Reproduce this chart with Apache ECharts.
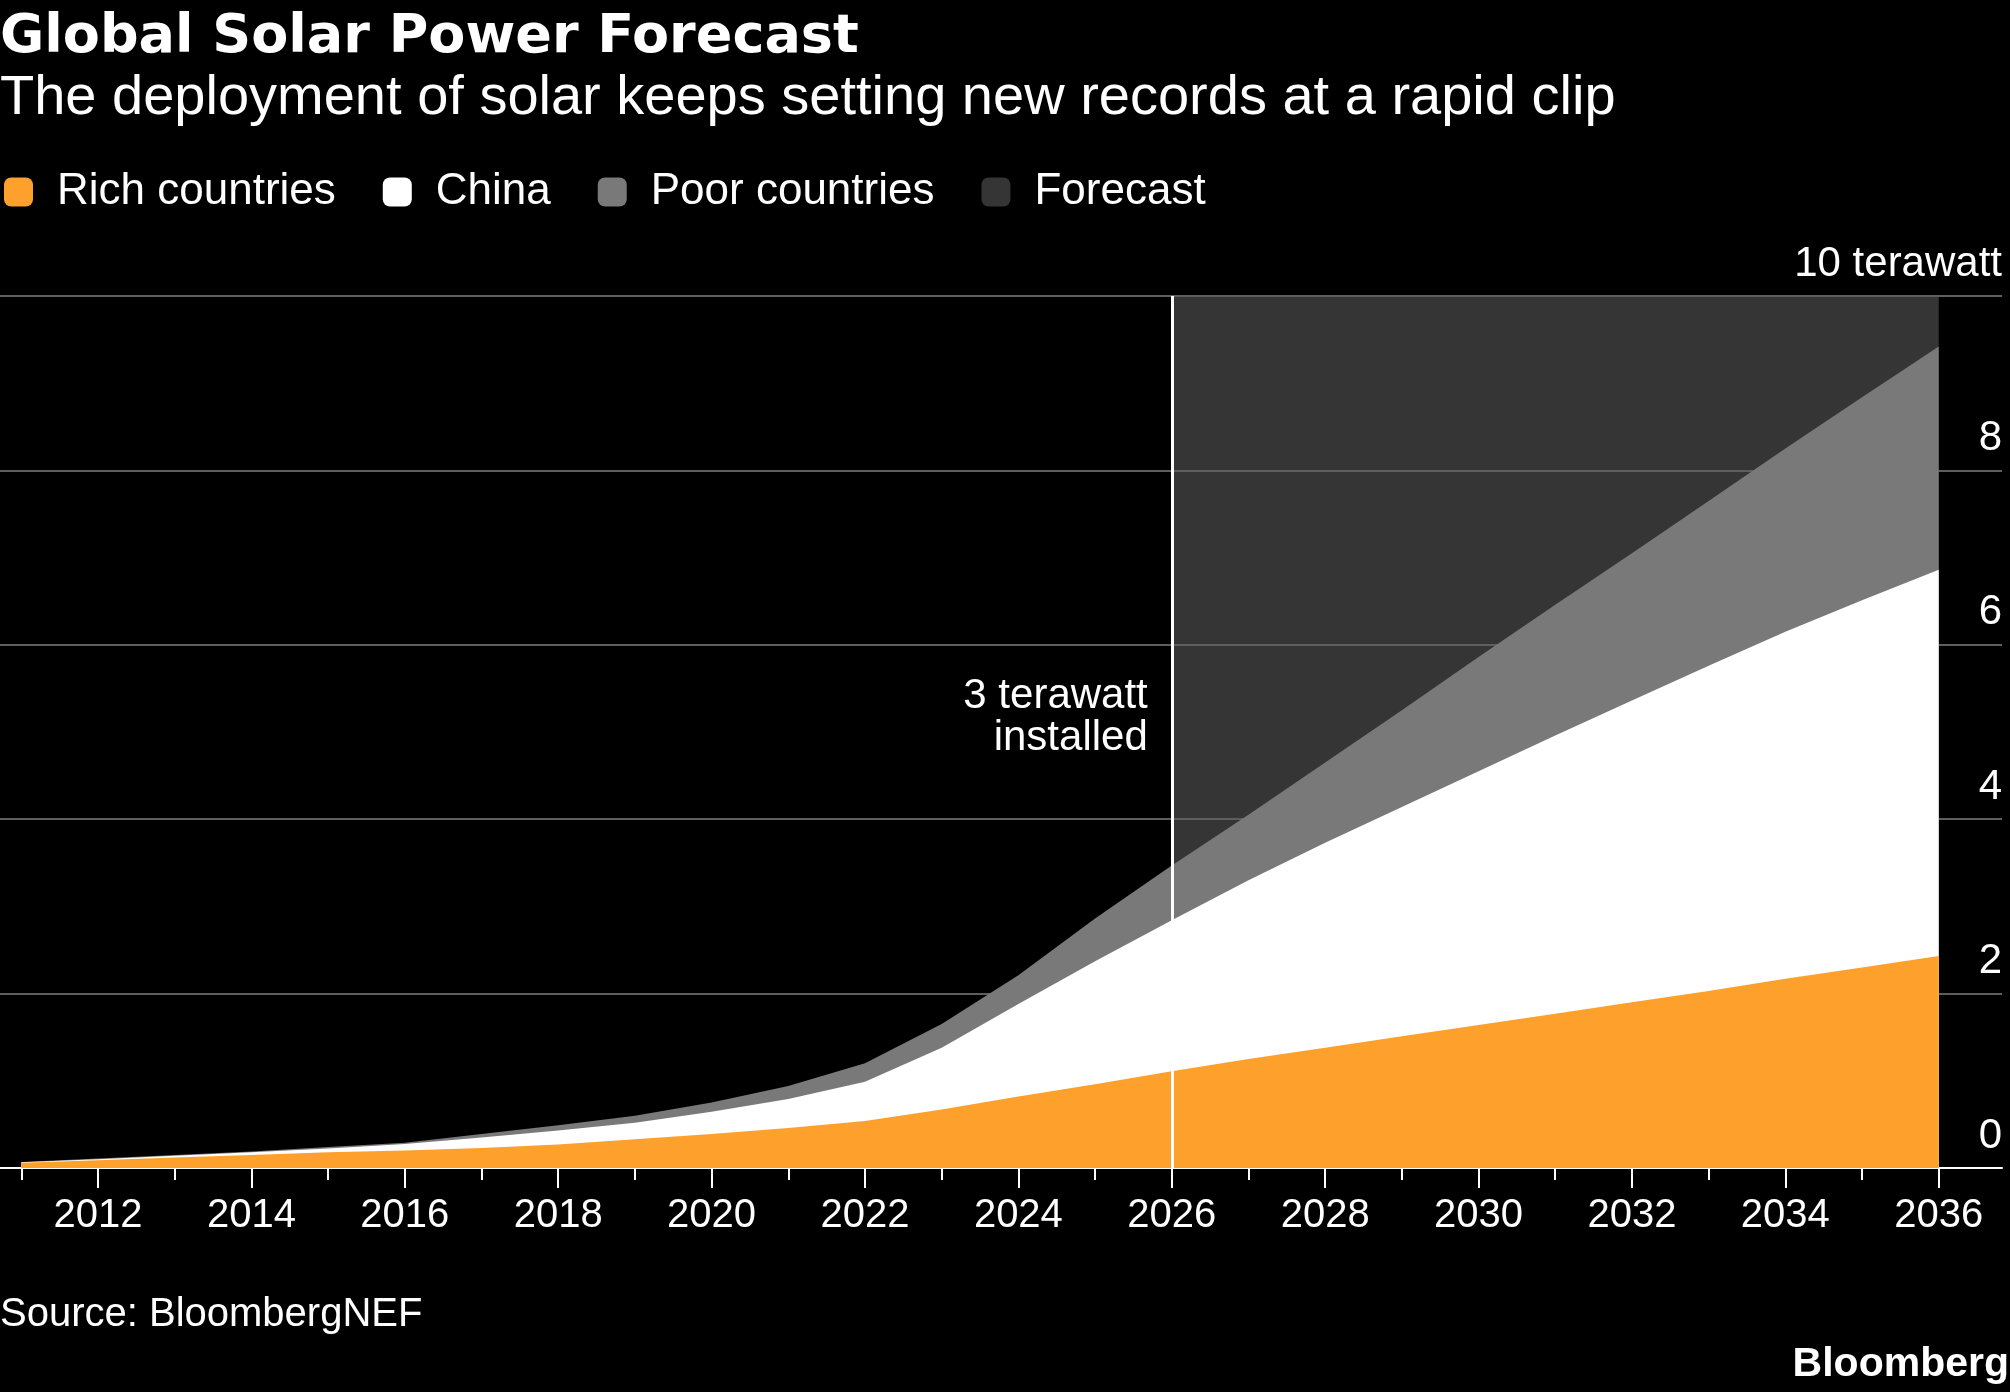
<!DOCTYPE html>
<html>
<head>
<meta charset="utf-8">
<title>Global Solar Power Forecast</title>
<script src="https://cdn.jsdelivr.net/npm/echarts@6.0.0/dist/echarts.min.js"></script>
<style>
    html, body { margin: 0; padding: 0; background: #000; }
    #main { width: 2010px; height: 1392px; }
</style>
</head>
<body>
<div id="main"></div>
<script>
// 年份
var years = [2011, 2012, 2013, 2014, 2015, 2016, 2017, 2018, 2019, 2020, 2021, 2022, 2023,
    2024, 2025, 2026, 2027, 2028, 2029, 2030, 2031, 2032, 2033, 2034, 2035, 2036];
// 装机量 (terawatt), 各部分
var rich = [0.06, 0.09, 0.12, 0.15, 0.18, 0.20, 0.23, 0.27, 0.33, 0.39, 0.46, 0.54, 0.67,
    0.82, 0.96, 1.11, 1.25, 1.38, 1.51, 1.64, 1.77, 1.90, 2.03, 2.17, 2.30, 2.43];
var china = [0.005, 0.01, 0.02, 0.03, 0.045, 0.075, 0.12, 0.16, 0.19, 0.255, 0.33, 0.45, 0.71,
    1.06, 1.41, 1.73, 2.05, 2.35, 2.63, 2.91, 3.19, 3.46, 3.73, 3.98, 4.21, 4.43];
var poor = [0.005, 0.01, 0.01, 0.01, 0.015, 0.015, 0.04, 0.06, 0.08, 0.105, 0.15, 0.21, 0.27,
    0.33, 0.49, 0.63, 0.75, 0.92, 1.11, 1.31, 1.50, 1.69, 1.89, 2.10, 2.33, 2.56];
// 预测区间
var forecastYears = [2026, 2036];
var forecastTop = [10, 10];
// 刻度
var labelYears = [2012, 2014, 2016, 2018, 2020, 2022, 2024, 2026, 2028, 2030, 2032, 2034, 2036];
var yTicks = [0, 2, 4, 6, 8, 10];
// 注释
var noteYear = 2026;
var noteValue = 5.17;
var noteText = '3 terawatt\ninstalled';

var font = 'Liberation Sans';

function pairs(xs, vals) {
    return xs.map(function (x, i) {
        return [x, vals[i]];
    });
}

// 手动累加 (x轴是数值轴, echarts 自带 stack 会叠到 x 上)
function cumulate() {
    var lists = Array.prototype.slice.call(arguments);
    return years.map(function (y, i) {
        var s = 0;
        lists.forEach(function (l) { s += l[i]; });
        return Math.round(s * 1000) / 1000;
    });
}
var richTop = cumulate(rich);
var chinaTop = cumulate(rich, china);
var poorTop = cumulate(rich, china, poor);

var chart = echarts.init(document.getElementById('main'));

// x轴范围: 网格线左右都超出数据区
var xMin = 2010.722, xMax = 2036.825;

var option = {
    backgroundColor: '#000',
    animation: false,
    title: [
        {
            text: 'Global Solar Power Forecast', left: 0, top: 11, padding: 0,
            textStyle: { color: '#fff', fontFamily: 'DejaVu Sans', fontWeight: 'bold', fontSize: 54 }
        },
        {
            text: 'The deployment of solar keeps setting new records at a rapid clip', left: 0, top: 71, padding: 0,
            textStyle: { color: '#fff', fontFamily: font, fontWeight: 'normal', fontSize: 56 }
        },
        {
            text: 'Source: BloombergNEF', left: 0, top: 1295, padding: 0,
            textStyle: { color: '#fff', fontFamily: font, fontWeight: 'normal', fontSize: 40 }
        },
        {
            text: 'Bloomberg', right: 1, top: 1344, padding: 0,
            textStyle: { color: '#fff', fontFamily: font, fontWeight: 'bold', fontSize: 41 }
        }
    ],
    legend: {
        left: 4,
        top: 170,
        padding: 0,
        itemWidth: 29,
        itemHeight: 29,
        itemGap: 47,
        icon: 'roundRect',
        selectedMode: false,
        textStyle: { color: '#fff', fontFamily: font, fontSize: 44, padding: [0, 0, 0, 19] },
        data: ['Rich countries', 'China', 'Poor countries', 'Forecast']
    },
    grid: { left: 0, right: 8, top: 296, bottom: 224 },
    xAxis: [
        {
            type: 'value', min: xMin, max: xMax, position: 'bottom',
            axisLine: { show: true, onZero: false, lineStyle: { color: '#fff', width: 2 } },
            axisTick: { show: true, customValues: years, length: 12, lineStyle: { color: '#fff', width: 2 } },
            axisLabel: { show: false },
            splitLine: { show: false }
        },
        {
            type: 'value', min: xMin, max: xMax, position: 'bottom',
            axisLine: { show: false, onZero: false },
            axisTick: { show: true, customValues: labelYears, length: 20, lineStyle: { color: '#fff', width: 2 } },
            axisLabel: {
                show: true, customValues: labelYears, margin: 28,
                color: '#fff', fontFamily: font, fontSize: 40,
                formatter: function (v) { return String(v); }
            },
            splitLine: { show: false }
        }
    ],
    yAxis: {
        type: 'value', min: 0, max: 10, interval: 2, position: 'right',
        axisLine: { show: false },
        axisTick: { show: false },
        splitLine: { show: true, lineStyle: { color: '#5e5e5e', width: 2 } },
        axisLabel: {
            inside: true, margin: 0, color: '#fff', fontFamily: font, fontSize: 42,
            verticalAlign: 'bottom', padding: [0, 0, 11, 0],
            customValues: yTicks,
            formatter: function (v) { return v === 10 ? '10 terawatt' : String(v); }
        }
    },
    series: [
        {
            name: 'Forecast', type: 'line', z: -1, color: '#353535',
            data: pairs(forecastYears, forecastTop),
            showSymbol: false, symbol: 'none', silent: true,
            lineStyle: { width: 0 },
            areaStyle: { color: '#353535', opacity: 1 }
        },
        // 从最上层的累计值画起, 后画的盖住前面的
        {
            name: 'Poor countries', type: 'line', color: '#797979',
            data: pairs(years, poorTop),
            showSymbol: false, symbol: 'none', silent: true,
            lineStyle: { width: 0 },
            areaStyle: { color: '#797979', opacity: 1 }
        },
        {
            name: 'China', type: 'line', color: '#ffffff',
            data: pairs(years, chinaTop),
            showSymbol: false, symbol: 'none', silent: true,
            lineStyle: { width: 0 },
            areaStyle: { color: '#ffffff', opacity: 1 }
        },
        {
            name: 'Rich countries', type: 'line', color: '#fda02c',
            data: pairs(years, richTop),
            showSymbol: false, symbol: 'none', silent: true,
            lineStyle: { width: 0 },
            areaStyle: { color: '#fda02c', opacity: 1 },
            markLine: {
                silent: true,
                symbol: ['none', 'none'],
                label: { show: false },
                lineStyle: { color: '#fff', width: 3, type: 'solid' },
                data: [[{ coord: [noteYear, 0] }, { coord: [noteYear, 10] }]]
            },
            markPoint: {
                silent: true,
                symbol: 'circle',
                symbolSize: 0,
                data: [{
                    coord: [noteYear, noteValue],
                    label: {
                        show: true, position: 'left', distance: 24,
                        formatter: noteText, align: 'right',
                        color: '#fff', fontFamily: font, fontSize: 42, lineHeight: 42
                    }
                }]
            }
        }
    ]
};

chart.setOption(option);
</script>
</body>
</html>
